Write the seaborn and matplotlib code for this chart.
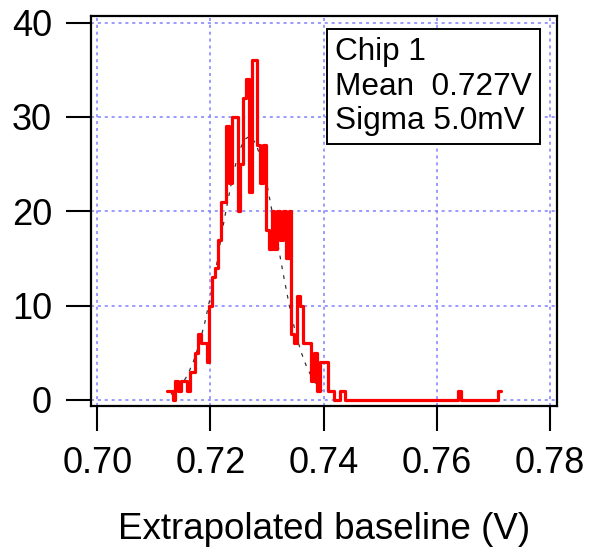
import numpy as np
import pandas as pd
import matplotlib
matplotlib.use('Agg')
import matplotlib.pyplot as plt
import seaborn as sns

# histogram of extrapolated baselines, 0.5 mV bins
bin_start = 0.7123
bin_width = 0.0005
counts = [1, 1, 0, 2, 1, 2, 2, 1, 3, 3,
          5, 7, 6, 6, 4, 10, 13, 14, 17, 21,
          21, 29, 23, 30, 30, 20, 25, 32, 34, 22,
          36, 36, 27, 23, 27, 18, 16, 20, 16, 20,
          17, 20, 15, 20, 7, 6, 11, 10, 6, 6,
          6, 2, 5, 1, 4, 4, 4, 1, 1, 0,
          0, 1, 1] + [0] * 40 + [1] + [0] * 13 + [1]

# gaussian fit at 1 mV steps
fit_x = [0.713, 0.714, 0.715, 0.716, 0.717, 0.718, 0.719, 0.720, 0.721, 0.722,
         0.723, 0.724, 0.725, 0.726, 0.727, 0.728, 0.729, 0.730, 0.731, 0.732,
         0.733, 0.734, 0.735, 0.736, 0.737, 0.738, 0.739, 0.740]
fit_y = [0.6, 1.0, 1.7, 2.7, 4.1, 5.9, 8.2, 11.0, 14.0, 17.7,
         20.9, 23.9, 26.3, 27.6, 28.0, 27.2, 25.5, 22.8, 19.6, 16.2,
         12.9, 9.8, 7.2, 5.1, 3.5, 2.3, 1.4, 0.8]

x_ticks = [0.70, 0.72, 0.74, 0.76, 0.78]
y_ticks = [0, 10, 20, 30, 40]
info_text = "Chip 1\nMean  0.727V\nSigma 5.0mV"

sns.set_style('ticks')
plt.rcParams['font.family'] = ['Liberation Sans', 'DejaVu Sans']
plt.rcParams['text.color'] = 'black'
plt.rcParams['axes.labelcolor'] = 'black'

edges = bin_start + bin_width * np.arange(len(counts) + 1)
hist_df = pd.DataFrame({'x': edges, 'count': counts + [counts[-1]]})
fit_df = pd.DataFrame({'x': fit_x, 'count': fit_y})

fig = plt.figure(figsize=(5.89, 5.52), dpi=100)
ax = fig.add_axes([0.1545, 0.2645, 0.7907, 0.7071])

ax.grid(True, color='#8080ff', linestyle=(0, (2, 2.5)), linewidth=1.1)
sns.lineplot(data=fit_df, x='x', y='count', ax=ax, color='#333333',
             linewidth=0.9, linestyle=(0, (3, 5)), estimator=None)
sns.lineplot(data=hist_df, x='x', y='count', ax=ax, color='#ff0000',
             linewidth=2.3, drawstyle='steps-post', estimator=None)

ax.set_xlim(0.69889, 0.78118)
ax.set_ylim(-0.64, 40.74)
ax.set_xticks(x_ticks)
ax.set_xticklabels([f'{v:.2f}' for v in x_ticks])
ax.set_yticks(y_ticks)
ax.tick_params(direction='out', length=18, width=1.5, labelsize=26,
               colors='black', bottom=True, left=True)
ax.tick_params(axis='x', pad=11)
ax.tick_params(axis='y', pad=10)
for s in ax.spines.values():
    s.set_visible(True)
    s.set_linewidth(1.6)
    s.set_color('black')

ax.set_xlabel('Extrapolated baseline (V)', fontsize=26.5, labelpad=22)
ax.set_ylabel('')

ax.text(0.524, 0.9454, info_text, transform=ax.transAxes, fontsize=22.7,
        va='top', ha='left', linespacing=1.2,
        bbox=dict(boxstyle='square,pad=0.25', facecolor='white',
                  edgecolor='black', linewidth=1.4))

plt.savefig('out.png', dpi=100)
